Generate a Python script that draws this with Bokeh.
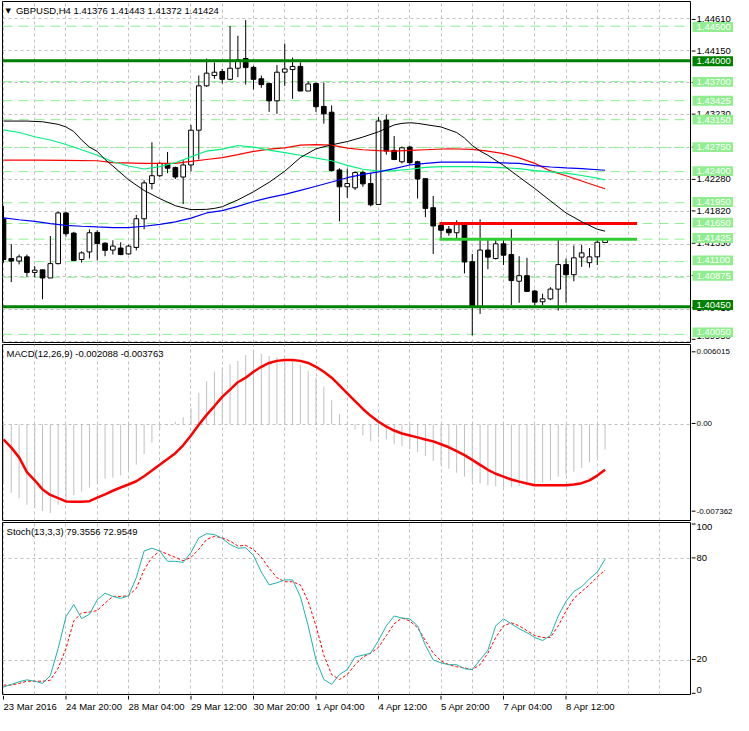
from bokeh.plotting import figure
from bokeh.models import Range1d, FixedTicker, Span, ColumnDataSource
from bokeh.layouts import column, row
from bokeh.embed import file_html
from bokeh.resources import INLINE
from bokeh.core.properties import value

# ---------------- data ----------------
header_text = "GBPUSD,H4  1.41376 1.41443 1.41372 1.41424"
macd_title = "MACD(12,26,9) -0.002088 -0.003763"
stoch_title = "Stoch(13,3,3) 79.3556 72.9549"

opens = [1.41719, 1.41145, 1.41108, 1.41169, 1.40944, 1.40981, 1.40864, 1.41071, 1.41803, 1.41512,
         1.41131, 1.41240, 1.41522, 1.41366, 1.41267, 1.41296, 1.41211, 1.41305, 1.41719, 1.42228,
         1.42341, 1.42505, 1.42458, 1.42322, 1.42496, 1.42998, 1.43639, 1.43788, 1.43846, 1.43733,
         1.43893, 1.44033, 1.43906, 1.43741, 1.43672, 1.43422, 1.43836, 1.43874, 1.43920, 1.43564,
         1.43672, 1.43342, 1.43258, 1.42424, 1.42181, 1.42166, 1.42387, 1.42228, 1.41926, 1.43144,
         1.42707, 1.42542, 1.42754, 1.42542, 1.42298, 1.41879, 1.41625, 1.41568, 1.41517, 1.41634,
         1.41099, 1.40449, 1.41267, 1.41145, 1.41357, 1.41202, 1.40817, 1.40897, 1.40675, 1.40520,
         1.40562, 1.40703, 1.41057, 1.40911, 1.41165, 1.41085, 1.41169, 1.41376]
highs = [1.41907, 1.41352, 1.41202, 1.41202, 1.41037, 1.40981, 1.41470, 1.41822, 1.41822, 1.41531,
         1.41249, 1.41564, 1.41554, 1.41380, 1.41408, 1.41380, 1.41343, 1.41775, 1.42275, 1.42824,
         1.42537, 1.42683, 1.42472, 1.42566, 1.43074, 1.43788, 1.44033, 1.43977, 1.43883, 1.44503,
         1.44362, 1.44588, 1.43929, 1.43788, 1.43686, 1.43939, 1.44249, 1.44047, 1.43977, 1.43705,
         1.43686, 1.43686, 1.43356, 1.42449, 1.42443, 1.42401, 1.42415, 1.42377, 1.43187, 1.43225,
         1.42914, 1.42763, 1.42777, 1.42557, 1.42307, 1.42048, 1.41648, 1.41615, 1.41696, 1.41662,
         1.41211, 1.41710, 1.41427, 1.41413, 1.41413, 1.41568, 1.41178, 1.41155, 1.40694, 1.40637,
         1.40731, 1.41413, 1.41145, 1.41333, 1.41343, 1.41296, 1.41437, 1.41443]
lows = [1.41085, 1.40803, 1.41060, 1.40883, 1.40873, 1.40557, 1.40864, 1.41060, 1.41460, 1.41108,
        1.41085, 1.41145, 1.41117, 1.41178, 1.41202, 1.41193, 1.41202, 1.41263, 1.41568, 1.42142,
        1.42322, 1.42377, 1.42293, 1.41931, 1.42401, 1.42575, 1.43625, 1.43741, 1.43672, 1.43719,
        1.43765, 1.43657, 1.43587, 1.43611, 1.43263, 1.43234, 1.43639, 1.43451, 1.43564, 1.43564,
        1.43263, 1.43093, 1.42401, 1.41681, 1.42021, 1.42134, 1.42181, 1.41898, 1.41917, 1.42645,
        1.42566, 1.42519, 1.42496, 1.42011, 1.41742, 1.41211, 1.41413, 1.41474, 1.41413, 1.40930,
        1.40035, 1.40345, 1.40991, 1.41131, 1.41052, 1.40472, 1.40505, 1.40661, 1.40472, 1.40472,
        1.40543, 1.40393, 1.40505, 1.40817, 1.41024, 1.41014, 1.41052, 1.41372]
closes = [1.41131, 1.41108, 1.41169, 1.40944, 1.40977, 1.40864, 1.41071, 1.41803, 1.41503, 1.41117,
          1.41226, 1.41517, 1.41362, 1.41263, 1.41324, 1.41202, 1.41324, 1.41719, 1.42237, 1.42341,
          1.42519, 1.42449, 1.42322, 1.42496, 1.42998, 1.43639, 1.43822, 1.43836, 1.43733, 1.43893,
          1.44014, 1.43902, 1.43733, 1.43657, 1.43422, 1.43836, 1.43883, 1.43920, 1.43564, 1.43666,
          1.43337, 1.43234, 1.42415, 1.42181, 1.42228, 1.42387, 1.42223, 1.41921, 1.43131, 1.42697,
          1.42575, 1.42744, 1.42529, 1.42293, 1.41869, 1.41615, 1.41554, 1.41517, 1.41634, 1.41094,
          1.40458, 1.41267, 1.41165, 1.41357, 1.41193, 1.40826, 1.40897, 1.40670, 1.40515, 1.40562,
          1.40703, 1.41057, 1.40911, 1.41155, 1.41226, 1.41169, 1.41380, 1.41424]

ma_black_bars = [0, 1, 3, 5, 7, 8, 9, 10, 11, 12, 13, 14, 16, 18, 20, 22, 24, 26, 27, 28, 30, 32, 34,
                 36, 38, 40, 42, 44, 46, 48, 50, 51, 52, 53, 56, 58, 59, 60, 61, 62, 64, 66, 68, 70,
                 72, 74, 76, 77]
ma_black = [1.43130, 1.43130, 1.43130, 1.43120, 1.43083, 1.43045, 1.42979, 1.42857, 1.42754, 1.42692,
            1.42575, 1.42481, 1.42283, 1.42128, 1.42011, 1.41907, 1.41851, 1.41855, 1.41869, 1.41893,
            1.41992, 1.42109, 1.42246, 1.42406, 1.42603, 1.42730, 1.42787, 1.42834, 1.42899, 1.42975,
            1.43074, 1.43097, 1.43106, 1.43097, 1.43045, 1.42965, 1.42885, 1.42777, 1.42697, 1.42636,
            1.42490, 1.42322, 1.42156, 1.41978, 1.41803, 1.41677, 1.41568, 1.41540]

ma_blue_bars = [0, 2, 4, 6, 8, 10, 12, 14, 16, 18, 20, 22, 24, 26, 28, 30, 32, 34, 36, 38, 40, 42,
                44, 46, 48, 50, 52, 54, 56, 60, 62, 66, 68, 70, 72, 74, 77]
ma_blue = [1.41733, 1.41705, 1.41681, 1.41648, 1.41625, 1.41611, 1.41601, 1.41592, 1.41592, 1.41611,
           1.41639, 1.41673, 1.41728, 1.41803, 1.41836, 1.41898, 1.41969, 1.42025, 1.42072, 1.42128,
           1.42189, 1.42250, 1.42312, 1.42359, 1.42396, 1.42443, 1.42496, 1.42519, 1.42537, 1.42537,
           1.42533, 1.42519, 1.42486, 1.42467, 1.42453, 1.42443, 1.42420]

ma_green_bars = [0, 2, 4, 6, 8, 10, 12, 14, 16, 18, 20, 22, 24, 26, 28, 30, 32, 34, 36, 38, 40, 42,
                 44, 46, 48, 50, 52, 54, 56, 60, 63, 66, 68, 70, 72, 74, 76, 77]
ma_green = [1.43003, 1.42965, 1.42904, 1.42857, 1.42791, 1.42716, 1.42636, 1.42542, 1.42481, 1.42438,
            1.42472, 1.42529, 1.42613, 1.42697, 1.42725, 1.42777, 1.42754, 1.42711, 1.42674, 1.42636,
            1.42594, 1.42557, 1.42490, 1.42434, 1.42406, 1.42415, 1.42434, 1.42462, 1.42472, 1.42472,
            1.42462, 1.42443, 1.42415, 1.42396, 1.42377, 1.42344, 1.42307, 1.42279]

ma_red_bars = [0, 4, 8, 12, 14, 18, 22, 24, 26, 28, 30, 32, 34, 36, 38, 40, 42, 44, 46, 48, 50, 52,
               54, 57, 60, 62, 64, 66, 68, 70, 72, 74, 76, 77]
ma_red = [1.42566, 1.42566, 1.42561, 1.42557, 1.42529, 1.42519, 1.42519, 1.42547, 1.42575, 1.42603,
          1.42645, 1.42692, 1.42725, 1.42744, 1.42782, 1.42791, 1.42782, 1.42740, 1.42716, 1.42702,
          1.42697, 1.42707, 1.42716, 1.42730, 1.42721, 1.42697, 1.42660, 1.42598, 1.42519, 1.42410,
          1.42341, 1.42264, 1.42189, 1.42152]

strong_levels = [1.44000, 1.40450]
light_levels = [1.44500, 1.43700, 1.43425, 1.43150, 1.42750, 1.42400, 1.41950, 1.41650,
                1.41425, 1.41100, 1.40875, 1.40050]
sr_levels = [1.41650, 1.41425]
sr_colors = ["#FF0000", "#32CD32"]
sr_start_bar = 55.8
sr_end_bar = 81.1

price_ticks = [1.44610, 1.44150, 1.43690, 1.43230, 1.42750, 1.42280, 1.41820, 1.41350,
               1.40880, 1.40410, 1.39950]

macd_hist = [-0.00491, -0.00567, -0.00613, -0.00667, -0.00689, -0.00720, -0.007362, -0.00667,
             -0.00635, -0.00586, -0.00559, -0.00526, -0.00483, -0.00450, -0.00442, -0.00423,
             -0.00374, -0.00334, -0.00247, -0.00152, -0.00043, -0.00008, 0.00022, 0.00060,
             0.00133, 0.00263, 0.00358, 0.00437, 0.00472, 0.00499, 0.00526, 0.00576, 0.006015,
             0.00584, 0.00567, 0.00559, 0.00543, 0.00527, 0.00494, 0.00445, 0.00388, 0.00315,
             0.00201, 0.00087, 0.00014, -0.00043, -0.00092, -0.00141, -0.00108, -0.00125,
             -0.00165, -0.00182, -0.00206, -0.00230, -0.00263, -0.00304, -0.00336, -0.00369,
             -0.00401, -0.00434, -0.00475, -0.00491, -0.00507, -0.00515, -0.00523, -0.00523,
             -0.00515, -0.00507, -0.00499, -0.00483, -0.00466, -0.00434, -0.00418, -0.00393,
             -0.00361, -0.00314, -0.00274, -0.002088]
macd_signal = [-0.00125, -0.00193, -0.00274, -0.00396, -0.00464, -0.00540, -0.00586, -0.00613,
               -0.00640, -0.00643, -0.00643, -0.00638, -0.00608, -0.00581, -0.00551, -0.00524,
               -0.00499, -0.00472, -0.00431, -0.00383, -0.00336, -0.00288, -0.00239, -0.00174,
               -0.00092, -0.00003, 0.00079, 0.00152, 0.00228, 0.00288, 0.00350, 0.00388, 0.00437,
               0.00478, 0.00510, 0.00527, 0.00535, 0.00535, 0.00527, 0.00510, 0.00478, 0.00437,
               0.00388, 0.00323, 0.00258, 0.00193, 0.00128, 0.00071, 0.00022, -0.00019, -0.00051,
               -0.00076, -0.00092, -0.00108, -0.00125, -0.00141, -0.00165, -0.00190, -0.00222,
               -0.00255, -0.00295, -0.00336, -0.00377, -0.00410, -0.00434, -0.00458, -0.00475,
               -0.00491, -0.00505, -0.00505, -0.00505, -0.00505, -0.00505, -0.00500, -0.00488,
               -0.00465, -0.00425, -0.003763]
macd_ticks = [0.006015, 0.0, -0.007362]
macd_tick_labels = ["0.006015", "0.00", "-0.007362"]

stoch_main = [4.3, 5.8, 7.4, 8.5, 7.7, 6.4, 11.0, 26.9, 45.6, 52.7,
              44.5, 47.0, 55.5, 59.4, 57.5, 56.3, 57.9, 68.5, 84.2, 85.8,
              84.2, 78.1, 78.1, 77.5, 83.3, 91.9, 94.3, 93.8, 91.5, 88.0,
              85.8, 86.1, 81.5, 71.8, 64.3, 65.5, 67.2, 67.2, 57.4, 40.2,
              20.2, 8.7, 5.9, 11.6, 14.5, 21.9, 23.0, 24.2, 31.6, 40.2,
              46.0, 44.8, 44.3, 40.2, 28.8, 20.2, 18.5, 17.4, 17.4, 15.0,
              14.5, 20.2, 25.9, 40.2, 44.3, 41.4, 38.5, 36.2, 33.4, 31.6,
              34.5, 46.0, 54.6, 60.4, 63.2, 67.8, 71.8, 79.3556]
stoch_signal = [5.4, 5.4, 6.4, 7.7, 7.7, 7.7, 8.3, 15.4, 26.9, 43.1,
                47.9, 48.3, 49.2, 53.6, 57.5, 57.5, 57.9, 62.2, 73.1, 80.4,
                84.2, 82.3, 80.4, 78.5, 80.4, 85.2, 90.9, 92.8, 91.9, 90.0,
                87.1, 87.5, 85.0, 80.5, 74.0, 68.5, 66.1, 66.1, 64.3, 54.6,
                40.2, 23.0, 11.6, 8.7, 11.6, 17.4, 21.9, 24.2, 27.6, 34.5,
                41.4, 44.8, 43.1, 39.1, 31.6, 24.2, 19.6, 17.4, 16.2, 15.6,
                14.5, 17.4, 24.2, 33.4, 40.2, 42.0, 40.2, 37.4, 34.5, 33.4,
                33.4, 40.2, 48.9, 56.3, 60.4, 64.3, 69.0, 72.9549]
stoch_ticks = [100, 80, 20, 0]
stoch_tick_labels = ["100", "80", "20", "0"]

date_tick_bars = [0, 8, 16, 24, 32, 40, 48, 56, 64, 72]
date_labels = ["23 Mar 2016", "24 Mar 20:00", "28 Mar 04:00", "29 Mar 12:00", "30 Mar 20:00",
               "1 Apr 04:00", "4 Apr 12:00", "5 Apr 20:00", "7 Apr 04:00", "8 Apr 12:00"]
grid_bars = list(range(0, 88, 4))

# ---------------- styling / layout constants ----------------
FONT = value("Liberation Sans")
FS = value("9.5px")
LB, RBORD = 2, 1
PW = 691          # width of each chart panel (frame + borders)
SW = 42           # width of the price-scale strip on the right
GRID_COLOR = "#C0C0C0"
x_range = Range1d(-0.125, 87.93)


def make_fig(height, y_range, top, bottom):
    p = figure(width=PW, height=height, x_range=x_range, y_range=y_range,
               output_backend="svg", toolbar_location=None,
               y_axis_location=None, x_axis_location=None,
               min_border_left=LB, min_border_right=RBORD,
               min_border_top=top, min_border_bottom=bottom)
    p.outline_line_color = "black"
    p.outline_line_width = 1
    p.outline_line_alpha = 1.0
    p.background_fill_color = "white"
    p.border_fill_color = "white"
    p.xgrid.ticker = FixedTicker(ticks=grid_bars)
    for g in (p.xgrid, p.ygrid):
        g.grid_line_color = GRID_COLOR
        g.grid_line_dash = "3 3"
        g.grid_line_width = 1
    return p


def make_scale(height, y_range, top, bottom):
    """Narrow strip to the right of a panel that carries its value scale."""
    frame_h = height - top - bottom
    ppx = (y_range.end - y_range.start) / frame_h
    yr = Range1d(y_range.start - bottom * ppx, y_range.end + top * ppx)
    s = figure(width=SW, height=height, x_range=Range1d(0, SW), y_range=yr,
               output_backend="svg", toolbar_location=None,
               x_axis_location=None, y_axis_location=None, min_border=0)
    s.outline_line_color = None
    s.grid.visible = False
    s.background_fill_color = "white"
    s.border_fill_color = "white"
    return s, ppx


def tick_marks(s, ticks, labels, baselines=None, size=FS):
    s.segment(x0=[0] * len(ticks), y0=ticks, x1=[4] * len(ticks), y1=ticks,
              line_color="black", line_width=1)
    if baselines is None:
        baselines = ["middle"] * len(ticks)
    for t, lab, bl in zip(ticks, labels, baselines):
        s.text(x=[5], y=[t], text=[lab], text_font=FONT, text_font_size=size,
               text_color="black", text_baseline=bl, text_align="left")


def title_text(p, text, x_bar, y_val):
    p.text(x=[x_bar], y=[y_val], text=[text], text_font=FONT, text_font_size=FS,
           text_color="black", text_baseline="top", text_align="left", y_offset=3)


# ---------------- main price panel ----------------
MAIN_H, MT, MB = 344, 1, 2
yr_main = Range1d(1.39932, 1.44857)
p1 = make_fig(MAIN_H, yr_main, MT, MB)
p1.ygrid.ticker = FixedTicker(ticks=price_ticks)

bars = list(range(len(opens)))
src = ColumnDataSource(dict(
    x=bars, high=highs, low=lows,
    top=[max(o, c) for o, c in zip(opens, closes)],
    bottom=[min(o, c) for o, c in zip(opens, closes)],
    fill=["white" if c >= o else "black" for o, c in zip(opens, closes)],
))

for lvl in light_levels:
    p1.add_layout(Span(location=lvl, dimension="width", line_color="#90EE90",
                       line_width=1, line_dash="10 6", level="underlay"))

p1.segment(x0="x", y0="high", x1="x", y1="low", source=src, line_color="black", line_width=1)
p1.vbar(x="x", width=0.6, top="top", bottom="bottom", source=src,
        fill_color="fill", line_color="black", line_width=1)

for lvl in strong_levels:
    p1.add_layout(Span(location=lvl, dimension="width", line_color="#008000", line_width=3))
p1.segment(x0=[sr_start_bar] * 2, y0=sr_levels, x1=[sr_end_bar] * 2, y1=sr_levels,
           line_color=sr_colors, line_width=3)

p1.line(ma_red_bars, ma_red, line_color="#FF0000", line_width=1.2)
p1.line(ma_green_bars, ma_green, line_color="#00F080", line_width=1.2)
p1.line(ma_blue_bars, ma_blue, line_color="#0000FF", line_width=1.2)
p1.line(ma_black_bars, ma_black, line_color="black", line_width=1)

ppx_main = (yr_main.end - yr_main.start) / (MAIN_H - MT - MB)
p1.text(x=[0.25], y=[yr_main.end], text=["\u25BC"], text_font=value("DejaVu Sans"),
        text_font_size=value("7px"), text_color="black", text_baseline="top",
        text_align="left", y_offset=5)
title_text(p1, header_text, 1.6, yr_main.end)

s1, _ = make_scale(MAIN_H, yr_main, MT, MB)
tick_marks(s1, price_ticks, [f"{t:.5f}" for t in price_ticks],
           ["middle"] * (len(price_ticks) - 1) + ["bottom"])
box_h = 5 * ppx_main
for lvls, col in ((light_levels, "#90EE90"), (strong_levels, "#008000")):
    s1.quad(left=[1] * len(lvls), right=[SW] * len(lvls),
            top=[v + box_h for v in lvls], bottom=[v - box_h for v in lvls],
            fill_color=col, line_color=None)
    s1.text(x=[5] * len(lvls), y=lvls, text=[f"{v:.5f}" for v in lvls], text_font=FONT,
            text_font_size=FS, text_color="white", text_baseline="middle", text_align="left")

# ---------------- MACD panel ----------------
MACD_H, AT, AB = 178, 0, 2
yr_macd = Range1d(-0.00798, 0.00663)
p2 = make_fig(MACD_H, yr_macd, AT, AB)
p2.ygrid.ticker = FixedTicker(ticks=[0.0])
p2.segment(x0=bars, y0=[0.0] * len(bars), x1=bars, y1=macd_hist, line_color="#C0C0C0",
           line_width=1)
p2.line(bars, macd_signal, line_color="#FF0000", line_width=2.5)
title_text(p2, macd_title, 0.4, yr_macd.end)
s2, _ = make_scale(MACD_H, yr_macd, AT, AB)
tick_marks(s2, macd_ticks, macd_tick_labels, size=value("8px"))

# ---------------- Stochastic panel ----------------
ST_H, ST_T, ST_B = 173, 0, 1
yr_st = Range1d(-0.1, 100.9)
p3 = make_fig(ST_H, yr_st, ST_T, ST_B)
p3.ygrid.ticker = FixedTicker(ticks=[20, 80])
p3.line(bars, stoch_signal, line_color="#FF0000", line_width=1, line_dash="3 2")
p3.line(bars, stoch_main, line_color="#20B2AA", line_width=1)
title_text(p3, stoch_title, 0.4, yr_st.end)
s3, _ = make_scale(ST_H, yr_st, ST_T, ST_B)
tick_marks(s3, stoch_ticks, stoch_tick_labels, ["top", "middle", "middle", "bottom"])

# ---------------- date strip (time scale) ----------------
STRIP_H = 20
strip = figure(width=PW, height=STRIP_H, x_range=x_range, y_range=Range1d(0, STRIP_H),
               output_backend="svg", toolbar_location=None,
               x_axis_location=None, y_axis_location=None,
               min_border_left=LB, min_border_right=RBORD, min_border_top=0, min_border_bottom=0)
strip.outline_line_color = None
strip.grid.visible = False
strip.background_fill_color = "white"
strip.border_fill_color = "white"
strip.segment(x0=date_tick_bars, y0=[STRIP_H] * len(date_tick_bars), x1=date_tick_bars,
              y1=[STRIP_H - 4] * len(date_tick_bars), line_color="black", line_width=1)
strip.text(x=date_tick_bars, y=[STRIP_H - 5] * len(date_tick_bars), text=date_labels,
           text_font=FONT, text_font_size=FS, text_color="black", text_baseline="top",
           text_align="left")

layout = column(row(p1, s1, spacing=0), row(p2, s2, spacing=0), row(p3, s3, spacing=0), strip,
                spacing=0)
open("out.html", "w").write(file_html(layout, INLINE))
